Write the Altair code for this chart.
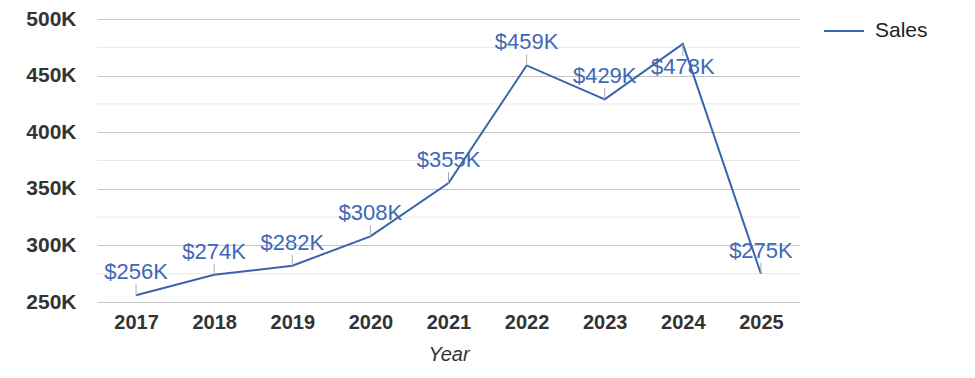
import altair as alt
import pandas as pd

years = ["2017", "2018", "2019", "2020", "2021", "2022", "2023", "2024", "2025"]
sales_k = [256, 274, 282, 308, 355, 459, 429, 478, 275]
below_years = ["2024"]
major_ticks = [250000, 300000, 350000, 400000, 450000, 500000]
minor_ticks = [275000, 325000, 375000, 425000, 475000]

df = pd.DataFrame({"Year": years, "Sales": [v * 1000 for v in sales_k]})
df["Series"] = "Sales"
df["label"] = ["$" + str(v) + "K" for v in sales_k]
df["below"] = [y in below_years for y in years]
minor_df = pd.DataFrame({"tick": minor_ticks})

LINE = "#3a63ad"
TEXT = "#3f68b5"
FONT = "Liberation Sans"

x = alt.X("Year:N", title="Year", sort=years,
          scale=alt.Scale(type="point", padding=0.5),
          axis=alt.Axis(labelAngle=0, labelFont=FONT, labelFontSize=20, labelFontWeight="bold",
                        labelColor="#333333", labelPadding=10, ticks=False, domain=False,
                        titleFont=FONT, titleFontSize=20, titleFontStyle="italic",
                        titleFontWeight="normal", titleColor="#333333", titlePadding=12, grid=False))
y = alt.Y("Sales:Q", title=None,
          scale=alt.Scale(domain=[250000, 500000], nice=False, zero=False),
          axis=alt.Axis(values=major_ticks,
                        labelExpr="(datum.value/1000) + 'K'",
                        labelFont=FONT, labelFontSize=21, labelFontWeight="bold",
                        labelColor="#333333", labelPadding=21, ticks=False, domain=False,
                        gridColor="#c6c6c6", gridWidth=1))

base = alt.Chart(df)

minor = alt.Chart(minor_df).mark_rule(color="#e8e8e8", strokeWidth=1).encode(y=alt.Y("tick:Q"))

line = base.mark_line(strokeWidth=2).encode(
    x=x, y=y,
    color=alt.Color("Series:N", scale=alt.Scale(range=[LINE]),
                    legend=alt.Legend(title=None, orient="none", legendX=726, legendY=-9,
                                      symbolType="stroke", symbolSize=1600, symbolStrokeWidth=2,
                                      labelFont=FONT, labelFontSize=21, labelColor="#222222",
                                      labelOffset=10)))

lead_up = base.transform_filter("!datum.below").mark_rule(color="#aaaaaa", strokeWidth=1, y2Offset=-11).encode(
    x=alt.X("Year:N", sort=years), y="Sales:Q", y2="Sales:Q")
lead_down = base.transform_filter("datum.below").mark_rule(color="#aaaaaa", strokeWidth=1, y2Offset=12).encode(
    x=alt.X("Year:N", sort=years), y="Sales:Q", y2="Sales:Q")

txt_up = base.transform_filter("!datum.below").mark_text(font=FONT, fontSize=22, color=TEXT, dy=-23,
                                                          baseline="middle").encode(
    x=alt.X("Year:N", sort=years), y="Sales:Q", text="label:N")
txt_down = base.transform_filter("datum.below").mark_text(font=FONT, fontSize=22, color=TEXT, dy=23,
                                                           baseline="middle").encode(
    x=alt.X("Year:N", sort=years), y="Sales:Q", text="label:N")

chart = alt.layer(minor, line, lead_up, lead_down, txt_up, txt_down).resolve_scale(y="shared").properties(
    width=703, height=283,
    background="white",
    autosize=alt.AutoSizeParams(type="none"),
    padding={"left": 97, "top": 19, "right": 175, "bottom": 76},
).configure_view(stroke=None)

chart.save("out.html", embed_options={"renderer": "svg", "actions": False})
